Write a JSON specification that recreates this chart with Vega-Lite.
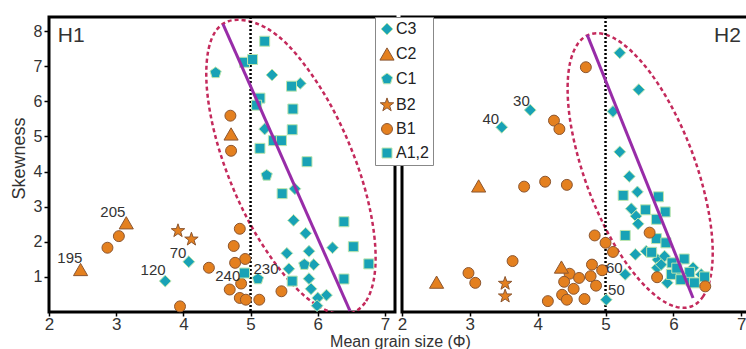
{
"$schema": "https://vega.github.io/schema/vega-lite/v6.json",
"background": "white",
"padding": {"left": 8, "top": 14, "right": 0, "bottom": 0},
"autosize": {"type": "pad"},
"bounds": "flush",
"spacing": 7,
"datasets": {
"pts": [
{"p":"H1","g":"C2","x":2.47,"y":1.21},{"p":"H1","g":"C2","x":3.15,"y":2.54},{"p":"H1","g":"C2","x":4.71,"y":5.07},
{"p":"H1","g":"B1","x":2.87,"y":1.83},{"p":"H1","g":"B1","x":3.04,"y":2.16},{"p":"H1","g":"B1","x":3.95,"y":0.16},{"p":"H1","g":"B1","x":4.70,"y":5.59},{"p":"H1","g":"B1","x":4.71,"y":4.59},{"p":"H1","g":"B1","x":4.84,"y":2.37},{"p":"H1","g":"B1","x":4.75,"y":1.88},{"p":"H1","g":"B1","x":4.92,"y":1.51},{"p":"H1","g":"B1","x":4.77,"y":1.40},{"p":"H1","g":"B1","x":4.38,"y":1.26},{"p":"H1","g":"B1","x":4.86,"y":0.81},{"p":"H1","g":"B1","x":4.69,"y":0.64},{"p":"H1","g":"B1","x":4.84,"y":0.40},{"p":"H1","g":"B1","x":4.93,"y":0.35},{"p":"H1","g":"B1","x":5.13,"y":0.35},{"p":"H1","g":"B1","x":5.46,"y":0.59},
{"p":"H1","g":"B2","x":3.92,"y":2.31},{"p":"H1","g":"B2","x":4.12,"y":2.07},
{"p":"H1","g":"C3","x":4.08,"y":1.43},{"p":"H1","g":"C3","x":3.73,"y":0.88},{"p":"H1","g":"C3","x":5.32,"y":6.75},{"p":"H1","g":"C3","x":5.74,"y":6.51},{"p":"H1","g":"C3","x":5.21,"y":5.21},{"p":"H1","g":"C3","x":5.66,"y":3.51},{"p":"H1","g":"C3","x":5.64,"y":2.61},{"p":"H1","g":"C3","x":5.82,"y":2.24},{"p":"H1","g":"C3","x":6.22,"y":1.83},{"p":"H1","g":"C3","x":5.54,"y":1.67},{"p":"H1","g":"C3","x":5.87,"y":1.73},{"p":"H1","g":"C3","x":5.57,"y":1.23},{"p":"H1","g":"C3","x":5.94,"y":1.35},{"p":"H1","g":"C3","x":5.87,"y":0.95},{"p":"H1","g":"C3","x":5.90,"y":0.66},{"p":"H1","g":"C3","x":6.13,"y":0.48},{"p":"H1","g":"C3","x":6.00,"y":0.40},{"p":"H1","g":"C3","x":5.99,"y":0.18},
{"p":"H1","g":"C1","x":4.48,"y":6.81},{"p":"H1","g":"C1","x":5.24,"y":3.89},{"p":"H1","g":"C1","x":5.80,"y":1.35},{"p":"H1","g":"C1","x":5.11,"y":0.94},
{"p":"H1","g":"A1,2","x":5.21,"y":7.71},{"p":"H1","g":"A1,2","x":4.91,"y":7.11},{"p":"H1","g":"A1,2","x":5.03,"y":7.19},{"p":"H1","g":"A1,2","x":5.61,"y":6.43},{"p":"H1","g":"A1,2","x":5.14,"y":6.09},{"p":"H1","g":"A1,2","x":5.09,"y":5.89},{"p":"H1","g":"A1,2","x":5.63,"y":5.78},{"p":"H1","g":"A1,2","x":5.62,"y":5.19},{"p":"H1","g":"A1,2","x":5.34,"y":4.88},{"p":"H1","g":"A1,2","x":5.46,"y":4.88},{"p":"H1","g":"A1,2","x":5.14,"y":4.66},{"p":"H1","g":"A1,2","x":5.84,"y":4.28},{"p":"H1","g":"A1,2","x":5.47,"y":3.37},{"p":"H1","g":"A1,2","x":6.39,"y":2.57},{"p":"H1","g":"A1,2","x":6.53,"y":1.86},{"p":"H1","g":"A1,2","x":6.76,"y":1.37},{"p":"H1","g":"A1,2","x":5.62,"y":0.88},{"p":"H1","g":"A1,2","x":6.39,"y":0.94},{"p":"H1","g":"A1,2","x":4.91,"y":1.11},
{"p":"H2","g":"C3","x":3.47,"y":5.26},{"p":"H2","g":"C3","x":3.89,"y":5.75},{"p":"H2","g":"C3","x":5.21,"y":7.38},{"p":"H2","g":"C3","x":5.49,"y":6.33},{"p":"H2","g":"C3","x":5.11,"y":5.71},{"p":"H2","g":"C3","x":5.21,"y":4.56},{"p":"H2","g":"C3","x":5.35,"y":3.86},{"p":"H2","g":"C3","x":5.47,"y":3.42},{"p":"H2","g":"C3","x":5.38,"y":2.94},{"p":"H2","g":"C3","x":5.45,"y":2.73},{"p":"H2","g":"C3","x":5.48,"y":2.51},{"p":"H2","g":"C3","x":5.60,"y":1.73},{"p":"H2","g":"C3","x":5.44,"y":1.64},{"p":"H2","g":"C3","x":5.77,"y":1.49},{"p":"H2","g":"C3","x":5.87,"y":1.59},{"p":"H2","g":"C3","x":5.76,"y":1.26},{"p":"H2","g":"C3","x":5.91,"y":0.83},{"p":"H2","g":"C3","x":6.29,"y":1.26},{"p":"H2","g":"C3","x":6.41,"y":1.07},{"p":"H2","g":"C3","x":5.29,"y":1.07},{"p":"H2","g":"C3","x":5.01,"y":0.35},{"p":"H2","g":"C3","x":6.05,"y":1.05},{"p":"H2","g":"C3","x":5.82,"y":1.35},{"p":"H2","g":"C3","x":6.2,"y":0.9},
{"p":"H2","g":"A1,2","x":5.26,"y":3.32},{"p":"H2","g":"A1,2","x":5.78,"y":3.28},{"p":"H2","g":"A1,2","x":5.59,"y":2.91},{"p":"H2","g":"A1,2","x":5.88,"y":2.85},{"p":"H2","g":"A1,2","x":5.75,"y":2.64},{"p":"H2","g":"A1,2","x":5.29,"y":2.18},{"p":"H2","g":"A1,2","x":5.75,"y":2.09},{"p":"H2","g":"A1,2","x":5.89,"y":1.97},{"p":"H2","g":"A1,2","x":5.98,"y":1.40},{"p":"H2","g":"A1,2","x":6.16,"y":1.51},{"p":"H2","g":"A1,2","x":5.97,"y":1.07},{"p":"H2","g":"A1,2","x":6.24,"y":1.13},{"p":"H2","g":"A1,2","x":6.11,"y":0.92},{"p":"H2","g":"A1,2","x":6.31,"y":0.83},{"p":"H2","g":"A1,2","x":6.46,"y":1.00},{"p":"H2","g":"A1,2","x":6.05,"y":1.25},{"p":"H2","g":"A1,2","x":5.68,"y":1.7},
{"p":"H2","g":"B1","x":4.24,"y":5.45},{"p":"H2","g":"B1","x":4.32,"y":5.21},{"p":"H2","g":"B1","x":4.71,"y":6.97},{"p":"H2","g":"B1","x":3.80,"y":3.57},{"p":"H2","g":"B1","x":4.11,"y":3.71},{"p":"H2","g":"B1","x":4.43,"y":3.62},{"p":"H2","g":"B1","x":2.98,"y":1.11},{"p":"H2","g":"B1","x":3.08,"y":0.83},{"p":"H2","g":"B1","x":3.63,"y":1.45},{"p":"H2","g":"B1","x":4.47,"y":1.09},{"p":"H2","g":"B1","x":4.39,"y":0.86},{"p":"H2","g":"B1","x":4.61,"y":0.97},{"p":"H2","g":"B1","x":4.53,"y":0.66},{"p":"H2","g":"B1","x":4.36,"y":0.49},{"p":"H2","g":"B1","x":4.43,"y":0.35},{"p":"H2","g":"B1","x":4.15,"y":0.31},{"p":"H2","g":"B1","x":4.69,"y":0.37},{"p":"H2","g":"B1","x":4.80,"y":1.35},{"p":"H2","g":"B1","x":4.78,"y":1.02},{"p":"H2","g":"B1","x":4.86,"y":0.75},{"p":"H2","g":"B1","x":4.84,"y":2.18},{"p":"H2","g":"B1","x":4.95,"y":1.19},{"p":"H2","g":"B1","x":5.00,"y":1.97},{"p":"H2","g":"B1","x":5.11,"y":1.71},{"p":"H2","g":"B1","x":5.65,"y":2.26},{"p":"H2","g":"B1","x":5.76,"y":0.99},{"p":"H2","g":"B1","x":6.47,"y":0.73},
{"p":"H2","g":"C2","x":3.13,"y":3.59},{"p":"H2","g":"C2","x":2.51,"y":0.85},{"p":"H2","g":"C2","x":4.35,"y":1.28},
{"p":"H2","g":"B2","x":3.52,"y":0.81},{"p":"H2","g":"B2","x":3.52,"y":0.45}
],
"labs": [
{"p":"H1","t":"195","x":2.31,"y":1.54},{"p":"H1","t":"205","x":2.95,"y":2.86},{"p":"H1","t":"70","x":3.92,"y":1.69},{"p":"H1","t":"120","x":3.55,"y":1.21},{"p":"H1","t":"240","x":4.66,"y":1.03},{"p":"H1","t":"230","x":5.23,"y":1.23},
{"p":"H2","t":"40","x":3.31,"y":5.49},{"p":"H2","t":"30","x":3.76,"y":6.0},{"p":"H2","t":"60","x":5.13,"y":1.26},{"p":"H2","t":"50","x":5.16,"y":0.63}
],
"trend": [
{"p":"H1","x":4.59,"y":8.2},{"p":"H1","x":6.48,"y":0.03},
{"p":"H2","x":4.73,"y":7.89},{"p":"H2","x":6.29,"y":0.4}
],
"ell": [
{"p":"H1","i":0,"x":6.531,"y":-0.01},{"p":"H1","i":1,"x":6.72,"y":0.311},{"p":"H1","i":2,"x":6.832,"y":0.897},{"p":"H1","i":3,"x":6.86,"y":1.709},{"p":"H1","i":4,"x":6.802,"y":2.683},{"p":"H1","i":5,"x":6.664,"y":3.763},{"p":"H1","i":6,"x":6.451,"y":4.869},{"p":"H1","i":7,"x":6.182,"y":5.929},{"p":"H1","i":8,"x":5.871,"y":6.866},{"p":"H1","i":9,"x":5.545,"y":7.623},{"p":"H1","i":10,"x":5.222,"y":8.1},{"p":"H1","i":11,"x":4.923,"y":8.3},{"p":"H1","i":12,"x":4.671,"y":8.28},{"p":"H1","i":13,"x":4.482,"y":8.0},{"p":"H1","i":14,"x":4.371,"y":7.446},{"p":"H1","i":15,"x":4.342,"y":6.634},{"p":"H1","i":16,"x":4.4,"y":5.66},{"p":"H1","i":17,"x":4.539,"y":4.58},{"p":"H1","i":18,"x":4.751,"y":3.474},{"p":"H1","i":19,"x":5.021,"y":2.414},{"p":"H1","i":20,"x":5.332,"y":1.477},{"p":"H1","i":21,"x":5.658,"y":0.72},{"p":"H1","i":22,"x":5.981,"y":0.2},{"p":"H1","i":23,"x":6.28,"y":-0.049},
{"p":"H2","i":0,"x":6.263,"y":0.157},{"p":"H2","i":1,"x":6.434,"y":0.431},{"p":"H2","i":2,"x":6.543,"y":0.954},{"p":"H2","i":3,"x":6.58,"y":1.683},{"p":"H2","i":4,"x":6.544,"y":2.571},{"p":"H2","i":5,"x":6.438,"y":3.56},{"p":"H2","i":6,"x":6.27,"y":4.583},{"p":"H2","i":7,"x":6.049,"y":5.566},{"p":"H2","i":8,"x":5.792,"y":6.446},{"p":"H2","i":9,"x":5.515,"y":7.157},{"p":"H2","i":10,"x":5.239,"y":7.657},{"p":"H2","i":11,"x":4.979,"y":7.911},{"p":"H2","i":12,"x":4.758,"y":7.9},{"p":"H2","i":13,"x":4.587,"y":7.626},{"p":"H2","i":14,"x":4.478,"y":7.103},{"p":"H2","i":15,"x":4.441,"y":6.374},{"p":"H2","i":16,"x":4.476,"y":5.486},{"p":"H2","i":17,"x":4.583,"y":4.497},{"p":"H2","i":18,"x":4.751,"y":3.474},{"p":"H2","i":19,"x":4.972,"y":2.491},{"p":"H2","i":20,"x":5.229,"y":1.611},{"p":"H2","i":21,"x":5.506,"y":0.9},{"p":"H2","i":22,"x":5.782,"y":0.4},{"p":"H2","i":23,"x":6.041,"y":0.146}
]
},
"config": {
"view": {"stroke": "#000", "strokeWidth": 3},
"font": "Liberation Sans",
"axis": {"domain": false, "grid": false, "tickColor": "#000", "tickWidth": 1.5, "tickSize": 5, "labelColor": "#333", "titleColor": "#333", "labelFont": "Liberation Sans", "titleFont": "Liberation Sans", "titleFontWeight": "normal", "labelFlush": false, "labelOverlap": false, "labelBound": false},
"legend": {"orient": "none", "legendX": 326, "legendY": 0, "strokeColor": "#888", "fillColor": "#ffffff", "padding": 4, "rowPadding": 8, "labelFontSize": 16, "labelFont": "Liberation Sans", "labelColor": "#222", "labelOffset": 1, "symbolStrokeWidth": 1}
},
"resolve": {"scale": {"x": "independent", "y": "independent"}},
"hconcat": [
{
"width": 346, "height": 295,
"layer": [
{"data": {"name": "ell"}, "transform": [{"filter": "datum.p === 'H1'"}],
 "mark": {"type": "line", "interpolate": "cardinal-closed", "stroke": "#c42a5c", "strokeWidth": 2.5, "strokeDash": [4, 3], "clip": true},
 "encoding": {
  "x": {"field": "x", "type": "quantitative", "scale": {"domain": [2, 7.15], "nice": false, "zero": false},
        "axis": {"values": [2,3,4,5,6,7], "format": "d", "labelFontSize": 17, "labelPadding": 0, "tickSize": 4, "title": "Mean grain size (Φ)", "titleFontSize": 16, "titleX": 351, "titleY": 34, "titleAlign": "center", "titleBaseline": "alphabetic"}},
  "y": {"field": "y", "type": "quantitative", "scale": {"domain": [0, 8.4], "nice": false, "zero": false},
        "axis": {"values": [1,2,3,4,5,6,7,8], "format": "d", "labelFontSize": 16, "labelPadding": 2, "title": "Skewness", "titleFontSize": 18, "titleX": -30, "titleY": 141, "titleAlign": "center", "titleBaseline": "middle", "titleAngle": -90}},
  "order": {"field": "i", "type": "quantitative"}}},
{"data": {"values": [{}]}, "mark": {"type": "rule", "stroke": "#000", "strokeWidth": 2.5, "strokeDash": [2, 2]},
 "encoding": {"x": {"datum": 5, "type": "quantitative"}}},
{"data": {"name": "pts"}, "transform": [{"filter": "datum.p === 'H1'"}],
 "mark": {"type": "point", "filled": true, "strokeWidth": 1, "opacity": 1},
 "encoding": {
  "x": {"field": "x", "type": "quantitative"},
  "y": {"field": "y", "type": "quantitative"},
  "shape": {"field": "g", "type": "nominal", "title": null, "scale": {"domain": ["C3","C2","C1","B2","B1","A1,2"], "range": ["diamond","triangle-up","M0,-1L0.951,-0.309L0.588,0.809L-0.588,0.809L-0.951,-0.309Z","M0,-1L0.235,-0.324L0.951,-0.309L0.38,0.124L0.588,0.809L0,0.4L-0.588,0.809L-0.38,0.124L-0.951,-0.309L-0.235,-0.324Z","circle","square"]}},
  "fill": {"field": "g", "type": "nominal", "title": null, "scale": {"domain": ["C3","C2","C1","B2","B1","A1,2"], "range": ["#18a2b6","#e4801f","#18a2b6","#e4801f","#e4801f","#18a2b6"]}},
  "stroke": {"field": "g", "type": "nominal", "title": null, "scale": {"domain": ["C3","C2","C1","B2","B1","A1,2"], "range": ["#bde6ae","#8c5630","#bde6ae","#8c5630","#8c5630","#bde6ae"]}},
  "size": {"field": "g", "type": "nominal", "title": null, "scale": {"type": "ordinal", "domain": ["C3","C2","C1","B2","B1","A1,2"], "range": [140, 200, 140, 200, 120, 100]}}}},
{"data": {"name": "trend"}, "transform": [{"filter": "datum.p === 'H1'"}],
 "mark": {"type": "line", "stroke": "#982ca8", "strokeWidth": 3},
 "encoding": {"x": {"field": "x", "type": "quantitative"}, "y": {"field": "y", "type": "quantitative"}}},
{"data": {"name": "labs"}, "transform": [{"filter": "datum.p === 'H1'"}],
 "mark": {"type": "text", "font": "Liberation Sans Narrow, Liberation Sans", "fontSize": 15, "color": "#333"},
 "encoding": {"x": {"field": "x", "type": "quantitative"}, "y": {"field": "y", "type": "quantitative"}, "text": {"field": "t"}}},
{"data": {"values": [{}]}, "mark": {"type": "text", "fontSize": 21, "align": "left", "baseline": "alphabetic", "color": "#333"},
 "encoding": {"x": {"datum": 2.13, "type": "quantitative"}, "y": {"datum": 7.69, "type": "quantitative"}, "text": {"value": "H1"}}}
]
},
{
"width": 346, "height": 295,
"layer": [
{"data": {"name": "ell"}, "transform": [{"filter": "datum.p === 'H2'"}],
 "mark": {"type": "line", "interpolate": "cardinal-closed", "stroke": "#c42a5c", "strokeWidth": 2.5, "strokeDash": [4, 3], "clip": true},
 "encoding": {
  "x": {"field": "x", "type": "quantitative", "scale": {"domain": [2, 7.1], "nice": false, "zero": false},
        "axis": {"values": [2,3,4,5,6,7], "format": "d", "labelFontSize": 17, "labelPadding": 0, "tickSize": 4, "title": null}},
  "y": {"field": "y", "type": "quantitative", "scale": {"domain": [0, 8.4], "nice": false, "zero": false}, "axis": null},
  "order": {"field": "i", "type": "quantitative"}}},
{"data": {"values": [{}]}, "mark": {"type": "rule", "stroke": "#000", "strokeWidth": 2.5, "strokeDash": [2, 2]},
 "encoding": {"x": {"datum": 5, "type": "quantitative"}}},
{"data": {"name": "pts"}, "transform": [{"filter": "datum.p === 'H2'"}],
 "mark": {"type": "point", "filled": true, "strokeWidth": 1, "opacity": 1},
 "encoding": {
  "x": {"field": "x", "type": "quantitative"},
  "y": {"field": "y", "type": "quantitative"},
  "shape": {"field": "g", "type": "nominal", "title": null},
  "fill": {"field": "g", "type": "nominal", "title": null},
  "stroke": {"field": "g", "type": "nominal", "title": null},
  "size": {"field": "g", "type": "nominal", "title": null, "scale": {"type": "ordinal"}}}},
{"data": {"name": "trend"}, "transform": [{"filter": "datum.p === 'H2'"}],
 "mark": {"type": "line", "stroke": "#982ca8", "strokeWidth": 3},
 "encoding": {"x": {"field": "x", "type": "quantitative"}, "y": {"field": "y", "type": "quantitative"}}},
{"data": {"name": "labs"}, "transform": [{"filter": "datum.p === 'H2'"}],
 "mark": {"type": "text", "font": "Liberation Sans Narrow, Liberation Sans", "fontSize": 15, "color": "#333"},
 "encoding": {"x": {"field": "x", "type": "quantitative"}, "y": {"field": "y", "type": "quantitative"}, "text": {"field": "t"}}},
{"data": {"values": [{}]}, "mark": {"type": "text", "fontSize": 21, "align": "left", "baseline": "alphabetic", "color": "#333"},
 "encoding": {"x": {"datum": 6.6, "type": "quantitative"}, "y": {"datum": 7.69, "type": "quantitative"}, "text": {"value": "H2"}}}
]
}
]
}
